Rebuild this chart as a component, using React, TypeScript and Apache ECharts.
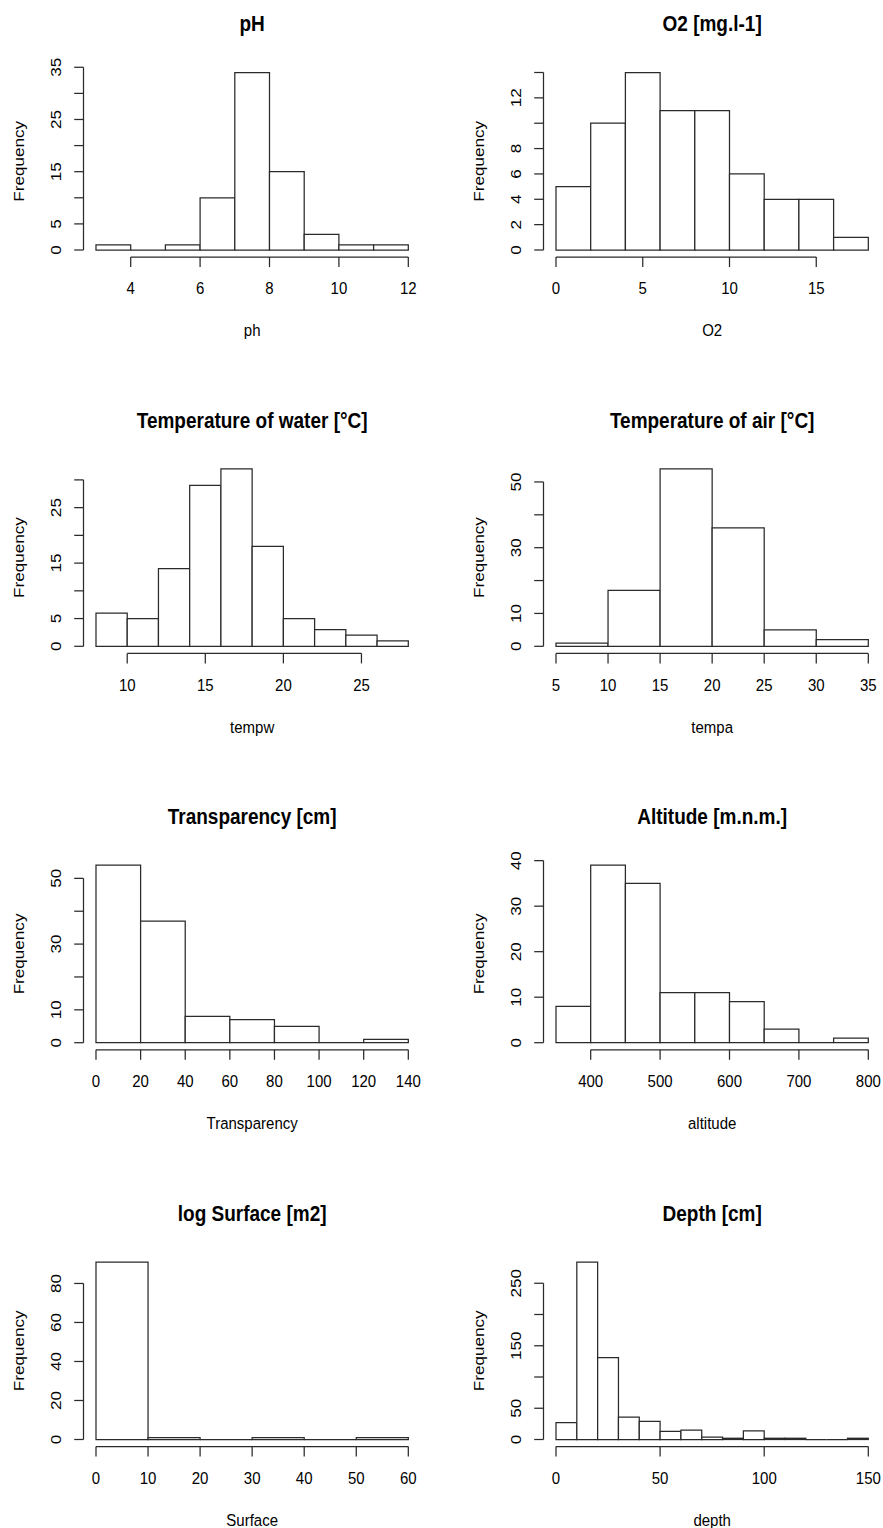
import React, { useEffect, useRef } from "react";
import * as echarts from "echarts";

// ---------- data ----------
const phBreaks = [3, 4, 5, 6, 7, 8, 9, 10, 11, 12];
const phCounts = [1, 0, 1, 10, 34, 15, 3, 1, 1];
const phXTicks = [4, 6, 8, 10, 12];
const phYTicks = [0, 5, 10, 15, 20, 25, 30, 35];
const phYLabels = ["0", "5", "", "15", "", "25", "", "35"];

const o2Breaks = [0, 2, 4, 6, 8, 10, 12, 14, 16, 18];
const o2Counts = [5, 10, 14, 11, 11, 6, 4, 4, 1];
const o2XTicks = [0, 5, 10, 15];
const o2YTicks = [0, 2, 4, 6, 8, 10, 12, 14];
const o2YLabels = ["0", "2", "4", "6", "8", "", "12", ""];

const tempwBreaks = [8, 10, 12, 14, 16, 18, 20, 22, 24, 26, 28];
const tempwCounts = [6, 5, 14, 29, 32, 18, 5, 3, 2, 1];
const tempwXTicks = [10, 15, 20, 25];
const tempwYTicks = [0, 5, 10, 15, 20, 25, 30];
const tempwYLabels = ["0", "5", "", "15", "", "25", ""];

const tempaBreaks = [5, 10, 15, 20, 25, 30, 35];
const tempaCounts = [1, 17, 54, 36, 5, 2];
const tempaXTicks = [5, 10, 15, 20, 25, 30, 35];
const tempaYTicks = [0, 10, 20, 30, 40, 50];
const tempaYLabels = ["0", "10", "", "30", "", "50"];

const transBreaks = [0, 20, 40, 60, 80, 100, 120, 140];
const transCounts = [54, 37, 8, 7, 5, 0, 1];
const transXTicks = [0, 20, 40, 60, 80, 100, 120, 140];
const transYTicks = [0, 10, 20, 30, 40, 50];
const transYLabels = ["0", "10", "", "30", "", "50"];

const altBreaks = [350, 400, 450, 500, 550, 600, 650, 700, 750, 800];
const altCounts = [8, 39, 35, 11, 11, 9, 3, 0, 1];
const altXTicks = [400, 500, 600, 700, 800];
const altYTicks = [0, 10, 20, 30, 40];
const altYLabels = ["0", "10", "20", "30", "40"];

const surfBreaks = [0, 10, 20, 30, 40, 50, 60];
const surfCounts = [91, 1, 0, 1, 0, 1];
const surfXTicks = [0, 10, 20, 30, 40, 50, 60];
const surfYTicks = [0, 20, 40, 60, 80];
const surfYLabels = ["0", "20", "40", "60", "80"];

const depthBreaks = [0, 10, 20, 30, 40, 50, 60, 70, 80, 90, 100, 110, 120, 130, 140, 150];
const depthCounts = [27, 284, 131, 36, 29, 13, 15, 4, 2, 14, 2, 2, 0, 0, 2];
const depthXTicks = [0, 50, 100, 150];
const depthYTicks = [0, 50, 100, 150, 200, 250];
const depthYLabels = ["0", "50", "", "150", "", "250"];

type Panel = {
  title: string;
  xlab: string;
  breaks: number[];
  counts: number[];
  xTicks: number[];
  yTicks: number[];
  yLabels: string[];
  col: number;
  row: number;
};

const panels: Panel[] = [
  { title: "pH", xlab: "ph", breaks: phBreaks, counts: phCounts, xTicks: phXTicks, yTicks: phYTicks, yLabels: phYLabels, col: 0, row: 0 },
  { title: "O2 [mg.l-1]", xlab: "O2", breaks: o2Breaks, counts: o2Counts, xTicks: o2XTicks, yTicks: o2YTicks, yLabels: o2YLabels, col: 1, row: 0 },
  { title: "Temperature of water [°C]", xlab: "tempw", breaks: tempwBreaks, counts: tempwCounts, xTicks: tempwXTicks, yTicks: tempwYTicks, yLabels: tempwYLabels, col: 0, row: 1 },
  { title: "Temperature of air [°C]", xlab: "tempa", breaks: tempaBreaks, counts: tempaCounts, xTicks: tempaXTicks, yTicks: tempaYTicks, yLabels: tempaYLabels, col: 1, row: 1 },
  { title: "Transparency [cm]", xlab: "Transparency", breaks: transBreaks, counts: transCounts, xTicks: transXTicks, yTicks: transYTicks, yLabels: transYLabels, col: 0, row: 2 },
  { title: "Altitude [m.n.m.]", xlab: "altitude", breaks: altBreaks, counts: altCounts, xTicks: altXTicks, yTicks: altYTicks, yLabels: altYLabels, col: 1, row: 2 },
  { title: "log Surface [m2]", xlab: "Surface", breaks: surfBreaks, counts: surfCounts, xTicks: surfXTicks, yTicks: surfYTicks, yLabels: surfYLabels, col: 0, row: 3 },
  { title: "Depth [cm]", xlab: "depth", breaks: depthBreaks, counts: depthCounts, xTicks: depthXTicks, yTicks: depthYTicks, yLabels: depthYLabels, col: 1, row: 3 },
];

// ---------- layout / style ----------
const W = 883;
const H = 1528;
const COL_LEFT = [83.5, 543.5];
const ROW_TOP = [65.4, 461.7, 858.1, 1254.9];
const PLOT_W = 337.3;
const PLOT_H = 191.7;
const FONT = "'Liberation Sans', Arial, Helvetica, sans-serif";
const STRETCH = 1.14; // vertical stretch of the reference
const AXIS_FS = 15;
const TITLE_FS = 19;
const LINE = "#2a2a2a";
const LINE_W = 1.25;
const TICK_X = 10;
const TICK_Y = 9.3;

function textEl(text: string, x: number, y: number, opts: any = {}) {
  const rotated = !!opts.rotated;
  return {
    type: "text",
    x,
    y,
    rotation: rotated ? Math.PI / 2 : 0,
    scaleX: rotated ? STRETCH : 1,
    scaleY: rotated ? 1 : STRETCH,
    silent: true,
    style: {
      text,
      x: 0,
      y: 0,
      fill: "#000",
      fontSize: opts.fontSize || AXIS_FS,
      fontFamily: FONT,
      fontWeight: opts.bold ? "bold" : "normal",
      align: "center",
      verticalAlign: "middle",
      textAlign: "center",
      textVerticalAlign: "middle",
    },
  };
}

function lineEl(x1: number, y1: number, x2: number, y2: number) {
  return {
    type: "line",
    silent: true,
    shape: { x1, y1, x2, y2 },
    style: { stroke: LINE, lineWidth: LINE_W },
  };
}

function buildOption() {
  const grid: any[] = [];
  const xAxis: any[] = [];
  const yAxis: any[] = [];
  const series: any[] = [];

  panels.forEach((p, i) => {
    const b0 = p.breaks[0];
    const b1 = p.breaks[p.breaks.length - 1];
    const rx = b1 - b0;
    const xMin = b0 - 0.04 * rx;
    const xMax = b1 + 0.04 * rx;
    const m = Math.max(...p.counts);
    const yMin = -0.04 * m;
    const yMax = 1.04 * m;

    grid.push({ left: COL_LEFT[p.col], top: ROW_TOP[p.row], width: PLOT_W, height: PLOT_H });
    xAxis.push({ type: "value", gridIndex: i, min: xMin, max: xMax, show: false });
    yAxis.push({ type: "value", gridIndex: i, min: yMin, max: yMax, show: false });

    series.push({
      type: "custom",
      name: p.title,
      xAxisIndex: i,
      yAxisIndex: i,
      coordinateSystem: "cartesian2d",
      clip: false,
      silent: true,
      encode: { x: [0, 1], y: 2 },
      data: p.counts.map((c, k) => [p.breaks[k], p.breaks[k + 1], c]),
      renderItem: (_params: any, api: any) => {
        const a = api.coord([api.value(0), 0]);
        const b = api.coord([api.value(1), api.value(2)]);
        return {
          type: "polygon",
          shape: { points: [[a[0], a[1]], [b[0], a[1]], [b[0], b[1]], [a[0], b[1]]] },
          style: { fill: "#fff", stroke: LINE, lineWidth: LINE_W },
        };
      },
    });

    series.push({
      type: "custom",
      name: p.title + " axes",
      xAxisIndex: i,
      yAxisIndex: i,
      coordinateSystem: "cartesian2d",
      clip: false,
      silent: true,
      encode: { x: 0, y: 1 },
      data: [[xMin, yMin]],
      renderItem: (_params: any, api: any) => {
        const children: any[] = [];
        const bl = api.coord([xMin, yMin]);
        const tr = api.coord([xMax, yMax]);
        const left = bl[0];
        const bottom = bl[1];
        const top = tr[1];
        // x axis
        const xa = api.coord([p.xTicks[0], yMin])[0];
        const xb = api.coord([p.xTicks[p.xTicks.length - 1], yMin])[0];
        children.push(lineEl(xa, bottom, xb, bottom));
        p.xTicks.forEach((t) => {
          const x = api.coord([t, yMin])[0];
          children.push(lineEl(x, bottom, x, bottom + TICK_X));
          children.push(textEl(String(t), x, bottom + 31));
        });
        // y axis
        const ya = api.coord([xMin, p.yTicks[0]])[1];
        const yb = api.coord([xMin, p.yTicks[p.yTicks.length - 1]])[1];
        children.push(lineEl(left, ya, left, yb));
        p.yTicks.forEach((t, k) => {
          const y = api.coord([xMin, t])[1];
          children.push(lineEl(left - TICK_Y, y, left, y));
          if (p.yLabels[k]) children.push(textEl(p.yLabels[k], left - 28.5, y, { rotated: true }));
        });
        // axis titles and main title
        const cx = api.coord([(xMin + xMax) / 2, yMin])[0];
        children.push(textEl(p.xlab, cx, bottom + 73));
        children.push(textEl("Frequency", left - 65.5, (top + bottom) / 2, { rotated: true }));
        children.push(textEl(p.title, cx, top - 41.5, { bold: true, fontSize: TITLE_FS }));
        return { type: "group", children };
      },
    });
  });

  return {
    animation: false,
    backgroundColor: "#fff",
    grid,
    xAxis,
    yAxis,
    series,
  };
}

export default function App() {
  const ref = useRef<HTMLDivElement>(null);
  useEffect(() => {
    if (!ref.current) return;
    const chart = echarts.init(ref.current, undefined, { renderer: "svg" });
    chart.setOption(buildOption() as any);
    return () => chart.dispose();
  }, []);
  return (
    <div
      ref={ref}
      style={{ position: "absolute", left: 0, top: 0, width: W, height: H, background: "#fff" }}
    />
  );
}
